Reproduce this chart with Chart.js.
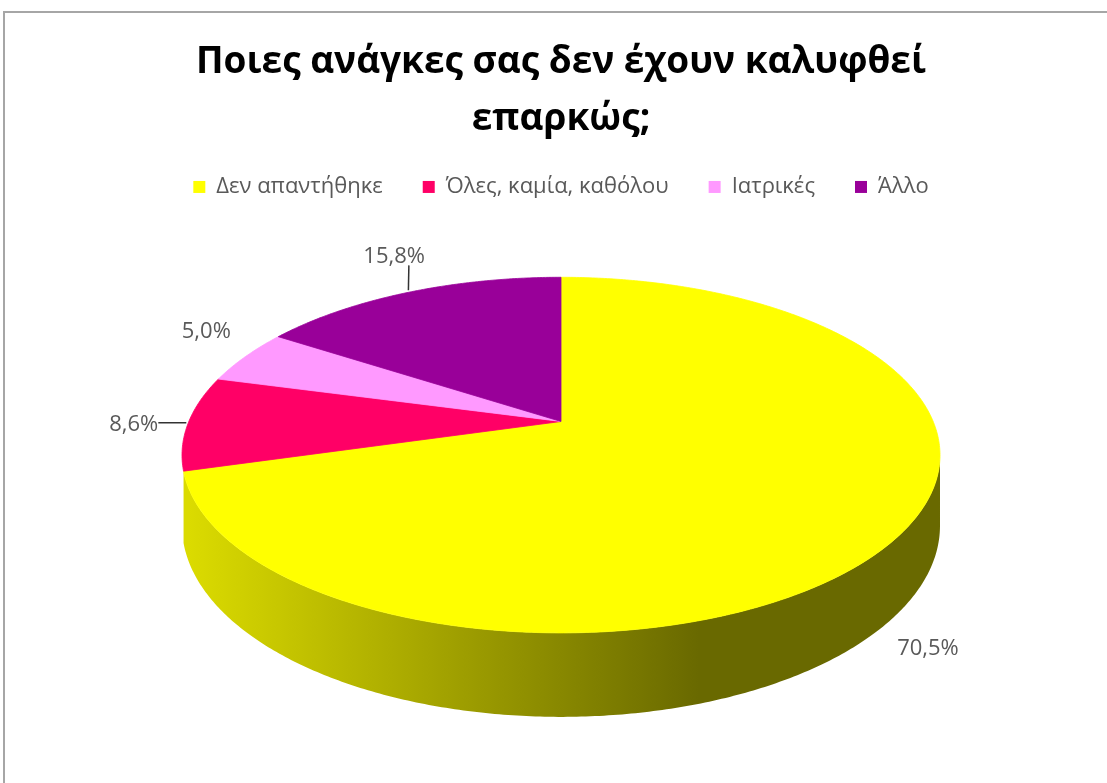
<!DOCTYPE html>
<html>
<head>
<meta charset="utf-8">
<script src="https://cdn.jsdelivr.net/npm/chart.js@4/dist/chart.umd.min.js"></script>
<style>
  html, body { margin: 0; padding: 0; background: #fff; }
  #wrap { position: relative; width: 1107px; height: 783px; overflow: hidden; }
  #frame { position: absolute; left: 3px; top: 11px; width: 1200px; height: 900px;
           border-left: 2px solid #a6a6a6; border-top: 2px solid #a6a6a6; }
  #chart1 { position: absolute; left: 0; top: 0; }
</style>
</head>
<body>
<div id="wrap">
  <div id="frame"></div>
  <canvas id="chart1" width="1107" height="783"></canvas>
</div>
<script>
"use strict";

const titleLines = ['Ποιες ανάγκες σας δεν έχουν καλυφθεί', 'επαρκώς;'];
const categories = ['Δεν απαντήθηκε', 'Όλες, καμία, καθόλου', 'Ιατρικές', 'Άλλο'];
const percentages = [70.5, 8.6, 5.0, 15.8];
const sliceColors = ['#ffff00', '#ff0066', '#ff99ff', '#990099'];

// tilted disc, all sizes relative to the radius Chart.js gives the pie
const view = { kx: 1.743, ky: 0.803, persp: 0.189, depth: 0.319, labelGap: 30 };
const leaderLines = [false, true, false, true];
const labelFont = { family: '"Open Sans"', size: 22, color: '#595959' };

function fmtPct(v) {
    return v.toFixed(1).replace('.', ',') + '%';
}

function shade(hex, f) {
    const n = parseInt(hex.slice(1), 16);
    const r = Math.round(((n >> 16) & 255) * f);
    const g = Math.round(((n >> 8) & 255) * f);
    const b = Math.round((n & 255) * f);
    return `rgb(${r},${g},${b})`;
}

// angle on the pie -> point on the screen, with a bit of perspective
function project(c, theta, r) {
    const w = 1 - view.persp * r * Math.sin(theta);
    return {
        x: c.x + view.kx * c.R * r * Math.cos(theta) / w,
        y: c.y + view.ky * c.R * r * Math.sin(theta) / w,
        drop: view.depth * c.R / w
    };
}

function rim(c, a0, a1) {
    const steps = Math.max(2, Math.ceil((a1 - a0) / 0.01));
    const pts = [];
    for (let k = 0; k <= steps; k++) pts.push(project(c, a0 + (a1 - a0) * k / steps, 1));
    return pts;
}

function drawSide(ctx, c, a0, a1, color) {
    const top = rim(c, a0, a1);
    const xs = top.map(p => p.x);
    // a sliver right at the silhouette would only show as a hairline
    if (Math.max(...xs) - Math.min(...xs) < 4) return;
    ctx.beginPath();
    top.forEach((p, k) => k ? ctx.lineTo(p.x, p.y) : ctx.moveTo(p.x, p.y));
    for (let k = top.length - 1; k >= 0; k--) ctx.lineTo(top[k].x, top[k].y + top[k].drop);
    ctx.closePath();
    const g = ctx.createLinearGradient(c.x - view.kx * c.R, 0, c.x + view.kx * c.R * 0.37, 0);
    g.addColorStop(0, shade(color, 0.86));
    g.addColorStop(1, shade(color, 0.41));
    ctx.fillStyle = g;
    ctx.fill();
}

const pie3d = {
    id: 'pie3d',
    beforeDatasetsDraw(chart) {
        const ctx = chart.ctx;
        const arcs = chart.getDatasetMeta(0).data;
        const colors = chart.data.datasets[0].backgroundColor;
        const c = { x: arcs[0].x, y: arcs[0].y, R: arcs[0].outerRadius };
        const visLo = Math.asin(view.persp), visHi = Math.PI - visLo;

        ctx.save();

        // front wall of the disc
        arcs.forEach((arc, i) => {
            for (const shift of [0, 2 * Math.PI]) {
                const a0 = Math.max(arc.startAngle, visLo + shift);
                const a1 = Math.min(arc.endAngle, visHi + shift);
                if (a1 > a0) drawSide(ctx, c, a0, a1, colors[i]);
            }
        });

        // top face
        arcs.forEach((arc, i) => {
            ctx.beginPath();
            ctx.moveTo(c.x, c.y);
            rim(c, arc.startAngle, arc.endAngle).forEach(p => ctx.lineTo(p.x, p.y));
            ctx.closePath();
            ctx.fillStyle = colors[i];
            ctx.strokeStyle = colors[i];
            ctx.lineWidth = 0.8;
            ctx.fill();
            ctx.stroke();
        });

        // value labels just outside the rim
        ctx.font = `${labelFont.size}px ${labelFont.family}`;
        ctx.fillStyle = labelFont.color;
        ctx.textAlign = 'center';
        ctx.textBaseline = 'alphabetic';
        arcs.forEach((arc, i) => {
            const mid = (arc.startAngle + arc.endAngle) / 2;
            const p = project(c, mid, 1);
            if (Math.sin(mid) > view.persp) p.y += p.drop;
            // push outward along the ellipse normal
            let nx = Math.cos(mid) / view.kx, ny = Math.sin(mid) / view.ky;
            const len = Math.hypot(nx, ny);
            nx /= len; ny /= len;
            const text = fmtPct(chart.data.datasets[0].data[i]);
            const hw = ctx.measureText(text).width / 2;
            const hh = labelFont.size * 0.36;
            const lx = p.x + nx * (view.labelGap + hw);
            const ly = p.y + ny * (view.labelGap + hh);
            ctx.fillText(text, lx, ly + hh);
            if (leaderLines[i]) {
                const qx = Math.min(Math.max(p.x, lx - hw), lx + hw);
                const qy = Math.min(Math.max(p.y, ly - hh - 2), ly + hh + 2);
                ctx.beginPath();
                ctx.moveTo(p.x + nx * 2, p.y + ny * 2);
                ctx.lineTo(qx, qy);
                ctx.strokeStyle = '#333';
                ctx.lineWidth = 1.5;
                ctx.stroke();
            }
        });

        ctx.restore();
        return false;
    }
};

const chart = new Chart(document.getElementById('chart1'), {
    type: 'pie',
    data: {
        labels: categories,
        datasets: [{
            data: percentages,
            backgroundColor: sliceColors,
            borderWidth: 0
        }]
    },
    options: {
        responsive: false,
        animation: false,
        layout: { padding: { left: 15, right: 0, top: 0, bottom: 148 } },
        plugins: {
            title: {
                display: true,
                text: titleLines,
                color: '#000',
                font: { family: '"Open Sans"', size: 37, weight: 'bold', lineHeight: 1.54 },
                padding: { top: 34, bottom: -12 }
            },
            legend: {
                position: 'top',
                labels: {
                    color: '#595959',
                    font: { family: '"Open Sans"', size: 22 },
                    boxWidth: 12,
                    boxHeight: 12,
                    padding: 40
                }
            },
            tooltip: { enabled: false }
        }
    },
    plugins: [pie3d]
});
</script>
</body>
</html>
